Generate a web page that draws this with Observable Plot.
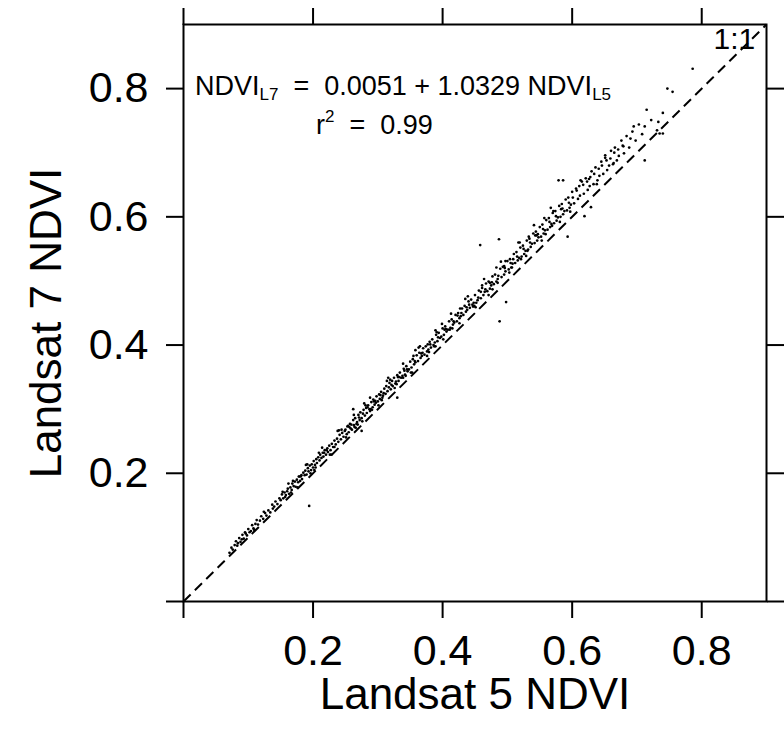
<!DOCTYPE html>
<html><head><meta charset="utf-8">
<script src="https://cdn.jsdelivr.net/npm/d3@7"></script>
<script src="https://cdn.jsdelivr.net/npm/@observablehq/plot@0.6"></script>
<style>html,body{margin:0;padding:0;background:#fff} svg{display:block}</style>
</head><body><div id="chart"></div>
<script>
// Landsat 5 NDVI (x) and Landsat 7 NDVI (y)
const ndviL5 = [
  0.071,0.074,0.076,0.079,0.081,0.083,0.084,0.086,0.088,0.090,
  0.091,0.093,0.096,0.098,0.100,0.102,0.104,0.106,0.108,0.111,
  0.113,0.115,0.118,0.120,0.123,0.126,0.128,0.131,0.134,0.137,
  0.140,0.142,0.145,0.148,
  0.150,0.152,0.154,0.156,0.158,0.160,0.161,0.163,0.165,0.167,
  0.168,0.170,0.172,0.173,0.175,0.177,0.178,0.180,0.182,0.183,
  0.185,0.187,0.188,0.190,0.192,0.193,0.194,0.195,0.197,0.198,
  0.200,0.201,0.203,0.205,0.206,0.208,0.210,0.211,0.213,0.215,
  0.216,0.218,0.220,0.222,0.223,0.225,0.227,0.229,0.231,0.233,
  0.235,0.237,0.239,0.241,0.243,0.245,0.247,0.249,
  0.250,0.252,0.253,0.255,0.257,0.258,0.260,0.262,0.263,0.265,
  0.267,0.268,0.270,0.272,0.273,0.275,0.277,0.278,0.280,0.282,
  0.283,0.285,0.287,0.288,0.290,0.292,0.293,0.295,0.297,0.298,
  0.300,0.302,0.303,0.305,0.307,0.308,0.310,0.312,0.313,0.315,
  0.317,0.318,0.320,0.322,0.323,0.325,0.327,0.328,0.330,0.332,
  0.334,0.336,0.338,0.340,0.342,0.344,0.346,0.348,0.350,0.352,
  0.354,0.356,0.358,0.360,0.362,0.364,0.366,0.368,0.370,0.372,
  0.374,0.376,0.378,0.380,0.382,0.384,0.386,0.388,0.390,0.392,
  0.394,0.396,0.398,0.400,0.402,0.404,0.406,0.408,0.410,0.412,
  0.414,0.416,0.418,0.420,0.422,0.424,0.426,0.428,0.430,0.432,
  0.434,0.436,0.438,0.440,0.442,0.444,0.446,0.448,
  0.259,0.271,0.284,0.296,0.309,0.321,0.333,0.345,0.357,0.369,
  0.381,0.393,0.405,0.417,0.429,0.441,0.264,0.289,0.339,0.387,
  0.262,0.275,0.330,0.358,
  0.450,0.452,0.454,0.456,0.458,0.459,0.461,0.463,0.465,0.467,
  0.469,0.471,0.473,0.475,0.477,0.479,0.481,0.483,0.485,0.487,
  0.488,0.489,0.491,0.493,0.495,0.497,0.498,0.500,0.502,0.504,
  0.506,0.508,0.510,0.512,0.514,0.516,0.518,0.520,0.522,0.524,
  0.526,0.528,0.530,0.532,0.534,0.536,0.538,0.540,0.542,0.544,
  0.546,0.548,0.550,0.552,0.554,0.556,0.558,0.560,0.562,0.564,
  0.566,0.568,0.570,0.572,0.574,0.576,0.578,0.579,0.580,0.582,
  0.584,0.586,0.586,0.588,0.590,0.592,0.593,0.594,0.596,0.598,
  0.455,0.466,0.476,0.486,0.496,0.505,0.515,0.525,0.535,0.545,
  0.555,0.565,0.575,0.585,0.595,
  0.600,0.603,0.606,0.609,0.612,0.615,0.618,0.619,0.621,0.624,
  0.627,0.629,0.630,0.633,0.636,0.639,0.642,0.645,0.648,0.651,
  0.654,0.657,0.660,0.663,0.666,0.669,0.672,0.676,0.680,0.684,
  0.688,0.693,0.698,0.703,0.708,0.712,0.712,0.715,0.722,0.731,
  0.733,0.735,0.740,0.740,0.747,0.755,0.786,
  0.601,0.607,0.611,0.617,0.623,0.628,0.634,0.641,0.646,0.653,
  0.659,0.665,0.671,0.679,0.690,
  0.162,0.176,0.189,0.202,0.214,0.226,0.238,0.251,0.263,0.276,
  0.288,0.301,0.314,0.326,0.339,0.351,0.363,0.376,0.389,0.401,
  0.413,0.426,0.439,0.451,0.464,0.477,0.490,0.503,0.517,0.529,
  0.541,0.553,0.567,0.581,
  0.157,0.169,0.181,0.196,0.209,0.221,0.233,0.244,0.256,0.269,
  0.281,0.294,0.306,0.319,0.331,0.343,0.355,0.367,0.379,0.391,
  0.403,0.415,0.427,0.437,0.449,0.461,0.473,0.485,0.497,0.509,
  0.521,0.533,0.547,0.559,0.571,
  0.095,0.109,0.124,0.138,0.153,0.166,0.179,0.191,0.204,0.217,
  0.228,0.240,0.254,0.266,0.279,0.291,0.304,0.316,0.329,0.341,
  0.353,0.365,0.377,0.389,0.399,0.411,0.423,0.435,0.447,0.459,
  0.471,0.483,0.495,0.507,0.519,0.531,0.543,0.557,0.569,0.583,
  0.597,0.613,0.626,0.638,0.651,0.664,0.678,0.695
];
const ndviL7 = [
  0.076,0.084,0.081,0.088,0.094,0.087,0.091,0.099,0.093,0.097,
  0.104,0.098,0.106,0.103,0.113,0.108,0.110,0.119,0.114,0.121,
  0.127,0.120,0.126,0.133,0.129,0.138,0.134,0.142,0.139,0.151,
  0.148,0.156,0.152,0.161,
  0.158,0.167,0.161,0.170,0.166,0.172,0.176,0.168,0.178,0.174,
  0.184,0.180,0.187,0.179,0.190,0.186,0.195,0.188,0.197,0.191,
  0.201,0.197,0.204,0.198,0.208,0.203,0.149,0.212,0.205,0.214,
  0.209,0.219,0.213,0.222,0.216,0.225,0.220,0.229,0.224,0.232,
  0.226,0.236,0.229,0.239,0.233,0.243,0.236,0.246,0.241,0.251,
  0.245,0.254,0.249,0.260,0.253,0.263,0.257,0.266,
  0.268,0.261,0.273,0.264,0.277,0.270,0.268,0.283,0.275,0.286,
  0.277,0.280,0.291,0.283,0.295,0.286,0.293,0.299,0.290,0.302,
  0.294,0.306,0.300,0.297,0.311,0.303,0.315,0.307,0.310,0.320,
  0.312,0.323,0.316,0.327,0.318,0.321,0.332,0.324,0.336,0.328,
  0.334,0.341,0.331,0.344,0.336,0.349,0.340,0.343,0.353,0.344,
  0.357,0.349,0.352,0.363,0.354,0.367,0.359,0.362,0.374,0.365,
  0.378,0.370,0.373,0.384,0.375,0.388,0.380,0.383,0.395,0.385,
  0.398,0.390,0.393,0.405,0.396,0.409,0.400,0.404,0.416,0.406,
  0.419,0.411,0.413,0.426,0.416,0.429,0.421,0.424,0.437,0.427,
  0.440,0.432,0.435,0.447,0.437,0.450,0.442,0.445,0.457,0.447,
  0.461,0.452,0.455,0.468,0.458,0.471,0.463,0.466,
  0.276,0.287,0.303,0.313,0.325,0.338,0.350,0.362,0.375,0.388,
  0.401,0.412,0.425,0.437,0.450,0.463,0.272,0.300,0.349,0.398,
  0.300,0.266,0.318,0.392,
  0.478,0.466,0.470,0.485,0.556,0.473,0.489,0.478,0.483,0.496,
  0.484,0.499,0.488,0.493,0.507,0.495,0.510,0.499,0.503,0.565,
  0.437,0.519,0.506,0.522,0.510,0.515,0.467,0.531,0.518,0.534,
  0.521,0.527,0.542,0.528,0.545,0.532,0.536,0.552,0.538,0.555,
  0.542,0.547,0.563,0.549,0.566,0.553,0.558,0.574,0.559,0.577,
  0.563,0.568,0.584,0.569,0.588,0.574,0.579,0.595,0.580,0.598,
  0.584,0.589,0.606,0.590,0.609,0.594,0.599,0.657,0.617,0.600,
  0.620,0.657,0.604,0.609,0.627,0.610,0.569,0.630,0.614,0.619,
  0.474,0.487,0.498,0.508,0.520,0.528,0.538,0.550,0.560,0.571,
  0.581,0.592,0.601,0.613,0.622,
  0.639,0.621,0.644,0.628,0.633,0.655,0.636,0.601,0.660,0.642,
  0.648,0.615,0.671,0.651,0.677,0.657,0.664,0.686,0.667,0.692,
  0.673,0.680,0.703,0.682,0.708,0.688,0.695,0.719,0.699,0.726,
  0.708,0.733,0.719,0.744,0.729,0.688,0.741,0.767,0.751,0.735,
  0.748,0.730,0.762,0.730,0.800,0.795,0.831,
  0.630,0.641,0.648,0.650,0.655,0.662,0.667,0.675,0.680,0.688,
  0.691,0.700,0.705,0.710,0.722,
  0.184,0.178,0.213,0.205,0.240,0.229,0.266,0.256,0.291,0.281,
  0.318,0.306,0.344,0.333,0.371,0.357,0.396,0.383,0.423,0.409,
  0.449,0.434,0.476,0.459,0.503,0.487,0.530,0.513,0.560,0.539,
  0.587,0.563,0.614,0.592,
  0.163,0.188,0.195,0.200,0.232,0.236,0.241,0.268,0.272,0.276,
  0.306,0.312,0.314,0.346,0.350,0.352,0.383,0.387,0.389,0.420,
  0.424,0.426,0.457,0.459,0.461,0.493,0.497,0.497,0.531,0.534,
  0.534,0.569,0.573,0.573,0.609,
  0.108,0.112,0.140,0.145,0.171,0.170,0.195,0.214,0.209,0.232,
  0.229,0.267,0.274,0.271,0.309,0.299,0.322,0.349,0.339,0.360,
  0.357,0.398,0.401,0.398,0.433,0.424,0.446,0.472,0.460,0.483,
  0.478,0.521,0.523,0.521,0.560,0.547,0.571,0.598,0.586,0.612,
  0.608,0.657,0.659,0.651,0.696,0.684,0.711,0.741
];
const tickValues = [0, 0.2, 0.4, 0.6, 0.8];
const axisDomain = [0, 0.9];
const xTitle = "Landsat 5 NDVI";
const yTitle = "Landsat 7 NDVI";
const eqIntercept = "0.0051";
const eqSlope = "1.0329";
const rSquared = "0.99";
const oneToOneLabel = "1:1";

const points = ndviL5.map((x, i) => ({x, y: ndviL7[i]}));
const font = "'Liberation Sans', Arial, Helvetica, sans-serif";
const fmt = d => d === 0 ? "" : d3.format(".1f")(d);

const plot = Plot.plot({
  width: 784, height: 738,
  marginLeft: 183, marginRight: 18, marginTop: 24, marginBottom: 137,
  x: {domain: axisDomain, label: null},
  y: {domain: axisDomain, label: null},
  style: {fontFamily: font, background: "#fff", color: "#000", overflow: "visible"},
  marks: [
    Plot.link([axisDomain], {x1: d => d[0], y1: d => d[0], x2: d => d[1], y2: d => d[1],
      stroke: "#000", strokeWidth: 2, strokeDasharray: "10,6"}),
    Plot.dot(points, {x: "x", y: "y", r: 1.35, fill: "#000", stroke: null}),
    Plot.frame({stroke: "#000", strokeWidth: 2}),
    Plot.axisX({anchor: "bottom", ticks: tickValues, tickSize: 17, tickPadding: 16,
      tickFormat: fmt, fontSize: 43, strokeWidth: 2, label: null}),
    Plot.axisX({anchor: "top", ticks: tickValues, tickSize: 17,
      tickFormat: () => "", strokeWidth: 2, label: null}),
    Plot.axisY({anchor: "left", ticks: tickValues, tickSize: 17, tickPadding: 18,
      tickFormat: fmt, fontSize: 43, strokeWidth: 2, label: null}),
    Plot.axisY({anchor: "right", ticks: tickValues, tickSize: 18,
      tickFormat: () => "", strokeWidth: 2, label: null}),
    Plot.text([xTitle], {text: d => d, frameAnchor: "bottom", dy: 93, fontSize: 44,
      textAnchor: "middle", lineAnchor: "middle", fill: "#000"}),
    Plot.text([yTitle], {text: d => d, frameAnchor: "left", dx: -137, dy: 10, rotate: -90,
      fontSize: 44, textAnchor: "middle", lineAnchor: "middle", fill: "#000"})
  ]
});

// equation annotation, positioned through the plot's own scales
const sx = plot.scale("x"), sy = plot.scale("y");
const svg = d3.select(plot);
const g = svg.append("g").attr("font-family", font).attr("fill", "#000")
  .attr("text-anchor", "start").style("white-space", "pre");
const t1 = g.append("text").attr("x", sx.apply(0.0185)).attr("y", sy.apply(0.789))
  .attr("font-size", 27).attr("text-anchor", "start");
t1.append("tspan").text("NDVI");
t1.append("tspan").attr("font-size", 17).attr("dy", 5).text("L7");
t1.append("tspan").attr("dy", -5).text(`  =  ${eqIntercept} + ${eqSlope} NDVI`);
t1.append("tspan").attr("font-size", 17).attr("dy", 5).text("L5");
const t2 = g.append("text").attr("x", sx.apply(0.2052)).attr("y", sy.apply(0.728))
  .attr("font-size", 27).attr("text-anchor", "start");
t2.append("tspan").text("r");
t2.append("tspan").attr("font-size", 17).attr("dy", -12).text("2");
t2.append("tspan").attr("dy", 12).text(`  =  ${rSquared}`);
g.append("text").attr("x", sx.apply(0.8835)).attr("y", sy.apply(0.861))
  .attr("font-size", 30).attr("text-anchor", "end").text(oneToOneLabel);

document.getElementById("chart").append(plot);
</script>
</body></html>
